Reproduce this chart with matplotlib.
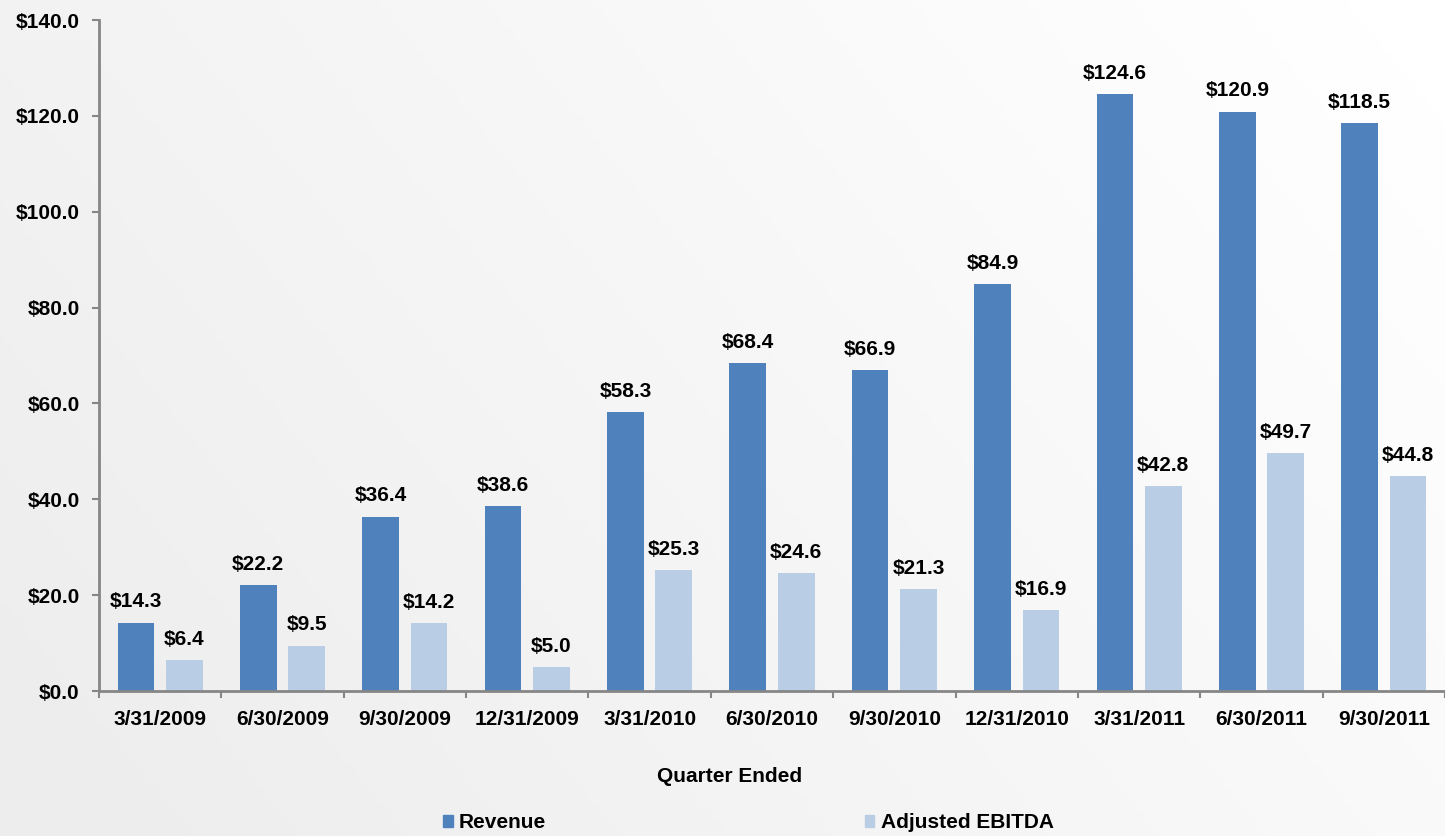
import numpy as np
import matplotlib
matplotlib.use("Agg")
import matplotlib.pyplot as plt
from matplotlib.patches import Patch

quarters = ["3/31/2009", "6/30/2009", "9/30/2009", "12/31/2009", "3/31/2010", "6/30/2010",
            "9/30/2010", "12/31/2010", "3/31/2011", "6/30/2011", "9/30/2011"]
revenue = [14.3, 22.2, 36.4, 38.6, 58.3, 68.4, 66.9, 84.9, 124.6, 120.9, 118.5]
ebitda = [6.4, 9.5, 14.2, 5.0, 25.3, 24.6, 21.3, 16.9, 42.8, 49.7, 44.8]

plt.rcParams['font.family'] = ['Liberation Sans', 'DejaVu Sans']
plt.rcParams['font.weight'] = 'bold'

fig = plt.figure(figsize=(14.45, 8.36), dpi=100)

# soft diagonal light-grey-to-white background
bg = fig.add_axes([0, 0, 1, 1], zorder=-10)
gx, gy = np.meshgrid(np.linspace(0, 1, 300), np.linspace(0, 1, 200))
grad = np.clip(0.75 * gx + 0.35 * (1 - gy) - 0.05, 0, 1)
gray = 0.93 + 0.07 * grad
bg.imshow(np.dstack([gray, gray, gray]), aspect='auto', extent=[0, 1, 0, 1])
bg.axis('off')

ax = fig.add_axes([0.0685, 0.1734, 0.9315, 0.8026])
ax.patch.set_alpha(0)

x = np.arange(len(quarters))
off = 0.198
w = 0.30
c_rev = '#4F81BD'
c_ebd = '#B9CDE5'
ax.bar(x - off, revenue, w, color=c_rev, label='Revenue')
ax.bar(x + off, ebitda, w, color=c_ebd, label='Adjusted EBITDA')

for xi, v in zip(x, revenue):
    ax.annotate(f"${v:.1f}", (xi - off, v), xytext=(0, 8), textcoords='offset points',
                ha='center', va='bottom', fontsize=15, fontweight='bold')
for xi, v in zip(x, ebitda):
    ax.annotate(f"${v:.1f}", (xi + off, v), xytext=(0, 8), textcoords='offset points',
                ha='center', va='bottom', fontsize=15, fontweight='bold')

ax.set_xlim(-0.5, len(quarters) - 0.5)
ax.set_ylim(0, 140)
ax.set_yticks(np.arange(0, 141, 20))
ax.set_yticklabels([f"${t:.1f}" for t in np.arange(0, 141, 20)], fontsize=15, fontweight='bold')
ax.set_xticks(x)
ax.set_xticklabels(quarters, fontsize=15, fontweight='bold')
ax.set_xticks(np.arange(-0.5, len(quarters), 1), minor=True)
ax.tick_params(axis='x', which='major', length=0, pad=14)
ax.tick_params(axis='x', which='minor', length=5, direction='out', color='#868686', width=1.5)
ax.tick_params(axis='y', length=5, direction='out', color='#868686', width=1.5, pad=9)

for s in ['top', 'right']:
    ax.spines[s].set_visible(False)
for s in ['left', 'bottom']:
    ax.spines[s].set_color('#868686')
    ax.spines[s].set_linewidth(2)

fig.text(0.505, 1 - 777 / 836, "Quarter Ended", ha='center', va='center', fontsize=15, fontweight='bold')

handles = [Patch(color=c_rev, label='Revenue'), Patch(color=c_ebd, label='Adjusted EBITDA')]
fig.legend(handles=handles, loc='center', bbox_to_anchor=(0.518, 1 - 823 / 836), ncol=2,
           frameon=False, fontsize=15, handlelength=0.45, handleheight=0.45,
           handletextpad=0.3, columnspacing=15.3, borderpad=0)

fig.savefig('out.png', dpi=100)
